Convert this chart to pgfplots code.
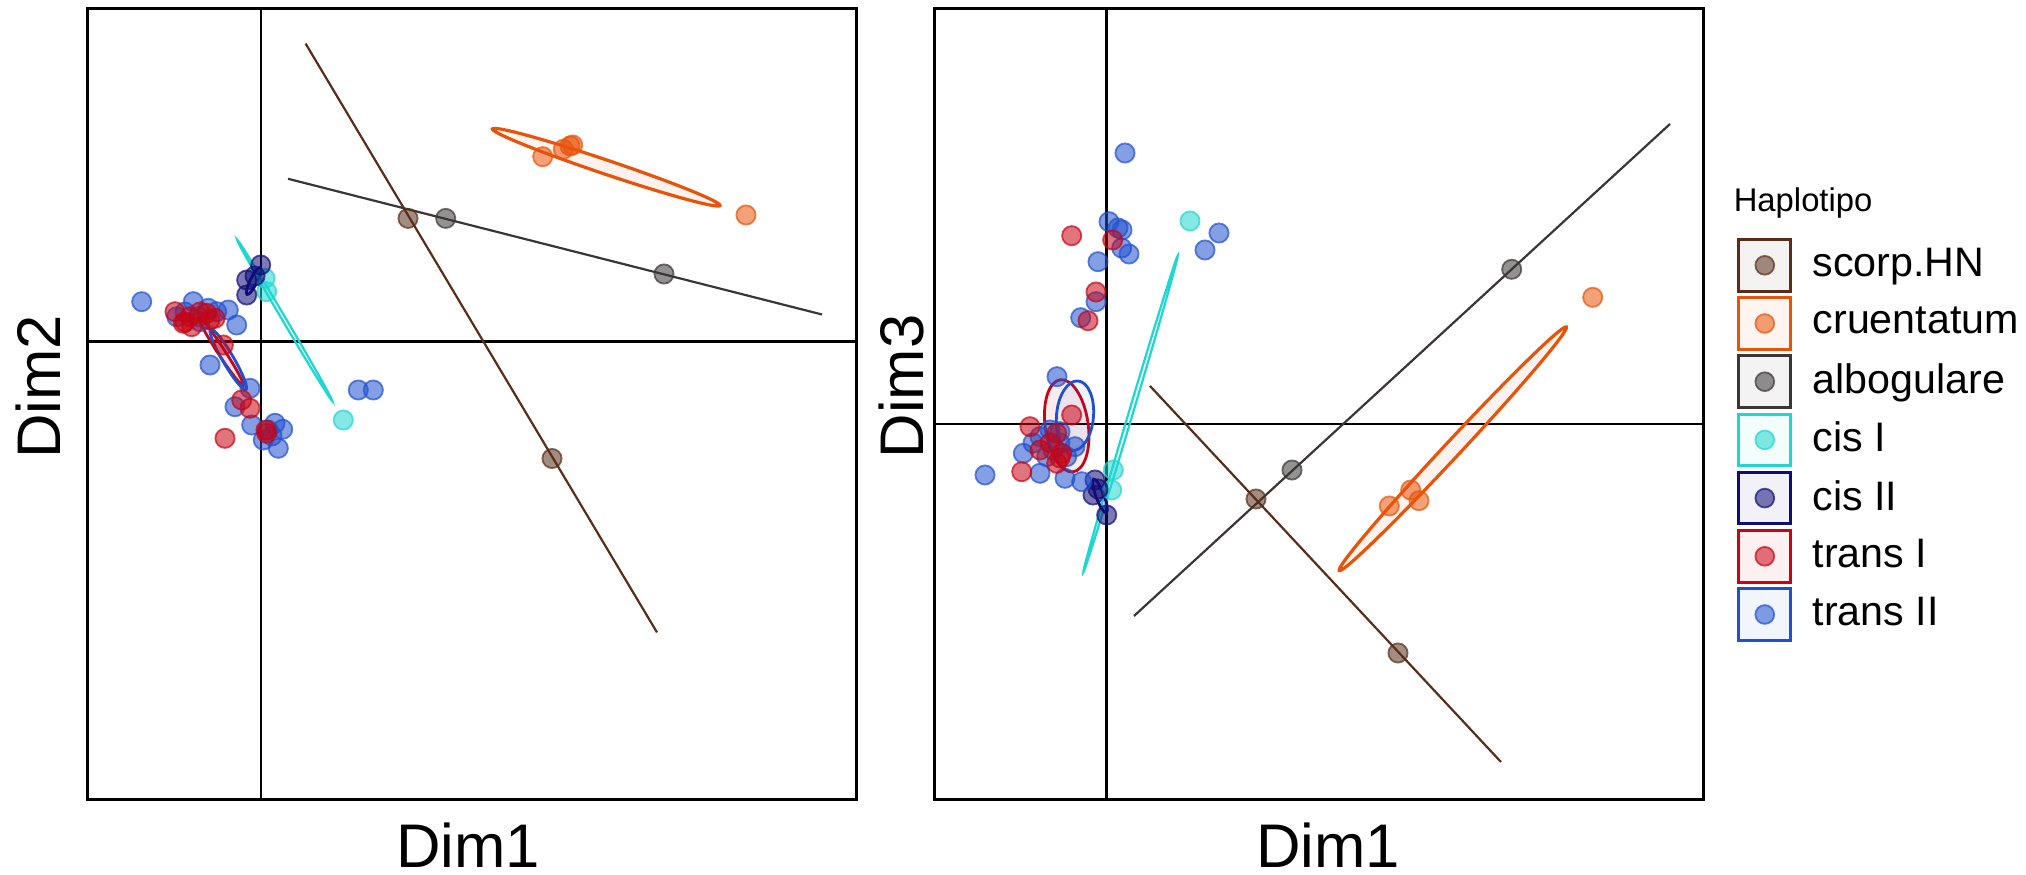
\documentclass[border=0pt]{standalone}
\usepackage{fontspec}
\setmainfont{Liberation Sans}
\usepackage{pgfplots}
\pgfplotsset{compat=1.18}
\definecolor{cScorp}{RGB}{88,46,26}
\definecolor{cCruent}{RGB}{232,83,10}
\definecolor{cAlbo}{RGB}{58,54,54}
\definecolor{cCisI}{RGB}{32,214,208}
\definecolor{cCisII}{RGB}{16,12,120}
\definecolor{cTransI}{RGB}{200,4,20}
\definecolor{cTransII}{RGB}{32,80,205}
\pgfplotsset{
 panel/.style={scale only axis, width=192.25pt, height=197.875pt, y dir=reverse, clip=false,
   xtick=\empty, ytick=\empty, axis line style={line width=0.75pt},
   label style={font=\fontsize{15.4}{18}\selectfont}, anchor=south west},
 pts/.style={only marks, mark=*, mark size=2.4pt,
   mark options={fill=#1, draw=#1, fill opacity=0.55, draw opacity=0.7, line width=0.45pt}, forget plot},
 seg/.style={draw=#1, line width=0.55pt, mark=none, forget plot},
 zero/.style={black, line width=0.6pt, mark=none, forget plot},
}
\newcommand{\confell}[7]{\draw[draw=#1, line width=#7, fill=#1, fill opacity=0.07, rotate around={#4:(axis cs:#2,#3)}] (axis cs:#2,#3) ellipse [x radius=#5, y radius=#6];}
\newcommand{\legkey}[1]{\addlegendimage{legend image code/.code={%
  \draw[draw=#1, line width=0.75pt, fill=#1, fill opacity=0.06] (0pt,-6.45pt) rectangle (13pt,6.45pt);
  \draw[draw=#1, fill=#1, fill opacity=0.55, draw opacity=0.7, line width=0.45pt] (6.5pt,0pt) circle (2.35pt);}}}
\begin{document}
\begin{tikzpicture}
\useasboundingbox (0pt,0pt) rectangle (506.5pt,218.75pt);
% ---------------- left panel: Dim1 x Dim2 ----------------
\begin{axis}[panel, at={(21.75pt,18.75pt)}, xmin=87, xmax=856, ymin=8.5, ymax=800,
  xlabel={Dim1}, ylabel={Dim2},
  x label style={at={(axis description cs:0.4954,-0.0859)}, anchor=base},
  y label style={at={(axis description cs:-0.0351,0.5218)}, anchor=base}]
\addplot[zero] coordinates {(260.7,8.5) (260.7,800)};
\addplot[zero] coordinates {(87,341.7) (856,341.7)};
% points
\addplot[pts=cScorp] coordinates {(408,218.4) (552,458.5)};
\addplot[pts=cCruent] coordinates {(542.7,156.7) (563.3,149.3) (570,146) (572.7,145) (746,215)};
\addplot[pts=cAlbo] coordinates {(445.7,218.4) (664,274)};
\addplot[pts=cCisI] coordinates {(265,278.3) (266.7,291.7) (343.3,420)};
\addplot[pts=cCisII] coordinates {(260.7,265) (246.7,280) (246.7,295) (255,276)};
\addplot[pts=cTransII] coordinates {(141.7,301.7) (176.7,316.7) (193.3,301.7) (198.3,316.7) (208.3,308.3) (216.7,311.7) (200,321.7) (228.3,310) (236.7,325) (210,365) (250,388.3) (235,406.7) (251.7,425) (275,423.3) (282.7,429.3) (263.3,440) (278.3,448.3) (358.3,390) (373.3,390) (268,430) (272,436) (185,312)};
\addplot[pts=cTransI] coordinates {(175,311.7) (183.3,323.3) (190,316.7) (206.7,313.3) (215,318.3) (191.7,326.7) (200,312) (223.3,345) (241.7,400) (250,408.3) (266.7,433.3) (225,438.3) (185,322) (210,320) (266,430)};
% ellipses
\confell{cCruent}{606.2}{167.2}{-18.6}{30pt}{1.75pt}{0.8pt}
\confell{cCisI}{284.7}{320.3}{-59.45}{23.375pt}{0.475pt}{0.55pt}
\confell{cCisII}{253.7}{281}{63.7}{3.75pt}{0.875pt}{0.7pt}
\confell{cTransI}{221.2}{351.7}{-56.9}{10.125pt}{0.875pt}{0.7pt}
\confell{cTransII}{228.3}{359.5}{-59.6}{8.75pt}{1.375pt}{0.7pt}
% two-point groups
\addplot[seg=cScorp] coordinates {(305.6,43.6) (657,632.4)};
\addplot[seg=cAlbo] coordinates {(288,178.8) (822,314.5)};
\end{axis}
% ---------------- right panel: Dim1 x Dim3 ----------------
\begin{axis}[panel, at={(233.5pt,18.75pt)}, xmin=934, xmax=1703, ymin=8.5, ymax=800,
  xlabel={Dim1}, ylabel={Dim3},
  x label style={at={(axis description cs:0.5124,-0.0859)}, anchor=base},
  y label style={at={(axis description cs:-0.0143,0.5224)}, anchor=base},
  legend style={at={(axis description cs:1.04356,0.71106)}, anchor=north west, draw=none, fill=none,
    inner sep=0pt, row sep=0.9pt, font=\fontsize{10.3}{12}\selectfont,
    nodes={inner xsep=0pt, inner ysep=0pt},
    /tikz/every odd column/.append style={column sep=5.1pt}},
  legend cell align=left]
\addplot[zero] coordinates {(1106.5,8.5) (1106.5,800)};
\addplot[zero] coordinates {(934,424) (1703,424)};
\addplot[pts=cScorp] coordinates {(1256,499) (1398,653)};
\addplot[pts=cCruent] coordinates {(1389.3,506) (1410.7,490) (1419,500.7) (1592.7,297.3)};
\addplot[pts=cAlbo] coordinates {(1292,470) (1511.7,269.3)};
\addplot[pts=cCisI] coordinates {(1190,221) (1113.3,470) (1111.7,490)};
\addplot[pts=cCisII] coordinates {(1095,480) (1093,495) (1106.7,515) (1098,489)};
\addplot[pts=cTransII] coordinates {(1125,153) (1219,233) (1205,250) (1109,221.7) (1118,228) (1122,230) (1121.7,248) (1129,254) (1098,261.7) (1096,301.7) (1080.7,317.7) (1057,376.7) (985,475) (1040,473.3) (1065,478.3) (1081.7,481.7) (1023.3,453.3) (1033,443) (1040,436.7) (1050,430) (1053,450) (1060,443) (1066.7,456.7) (1075,446.7) (1046.7,456.7) (1060,431.7)};
\addplot[pts=cTransI] coordinates {(1071.7,235.7) (1112.7,240) (1096,292) (1088,320.7) (1071.7,415) (1030,426.7) (1021.7,471.7) (1056.7,433.3) (1050,443) (1061.7,453.3) (1056.7,463.3) (1040,450) (1060,458)};
\confell{cCruent}{1452.8}{448.8}{47}{41.625pt}{2pt}{0.8pt}
\confell{cCisI}{1130.5}{414}{73.4}{41.25pt}{0.525pt}{0.55pt}
\confell{cCisII}{1100}{496}{-69.4}{4.5pt}{1pt}{0.7pt}
\confell{cTransI}{1066.7}{425.8}{98}{11.625pt}{5.375pt}{0.7pt}
\confell{cTransII}{1075}{415.8}{85}{8.75pt}{4.625pt}{0.7pt}
\addplot[seg=cScorp] coordinates {(1150,386) (1501,762)};
\addplot[seg=cAlbo] coordinates {(1134,616) (1670,124)};
\node[anchor=base west, inner sep=0pt, font=\fontsize{8.2}{10}\selectfont] at (axis description cs:1.03901,0.74327) {Haplotipo};
\legkey{cScorp}\addlegendentry{scorp.HN}
\legkey{cCruent}\addlegendentry{cruentatum}
\legkey{cAlbo}\addlegendentry{albogulare}
\legkey{cCisI}\addlegendentry{cis I}
\legkey{cCisII}\addlegendentry{cis II}
\legkey{cTransI}\addlegendentry{trans I}
\legkey{cTransII}\addlegendentry{trans II}
\end{axis}
\end{tikzpicture}
\end{document}
